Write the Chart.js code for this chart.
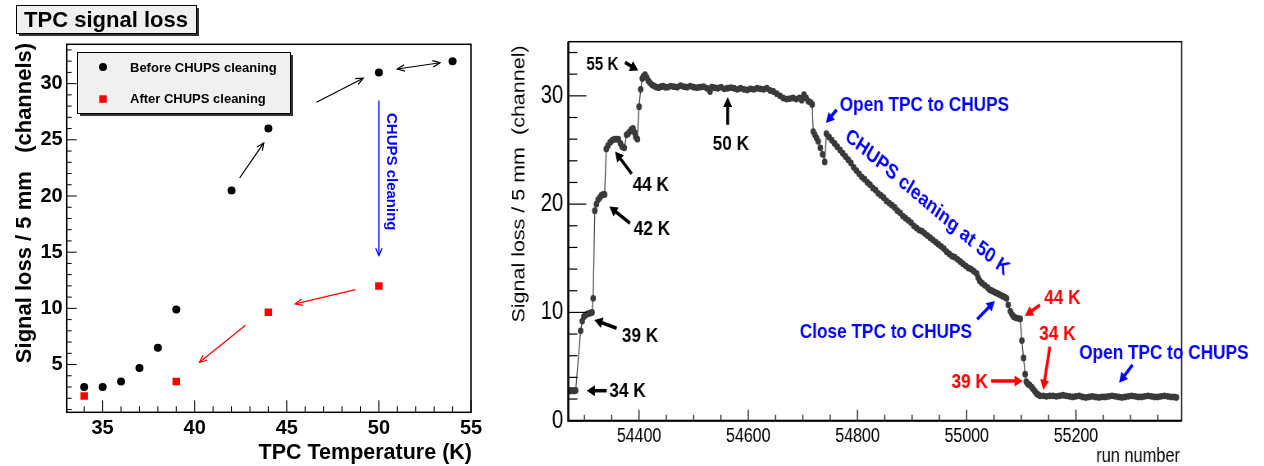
<!DOCTYPE html>
<html><head><meta charset="utf-8">
<script src="https://cdn.jsdelivr.net/npm/chart.js@4.4.1/dist/chart.umd.min.js"></script>
<style>
html,body{margin:0;padding:0;background:#fff;width:1264px;height:466px;overflow:hidden}
#left{position:absolute;left:0;top:0;width:490px;height:466px}
#right{position:absolute;left:490px;top:0;width:944px;height:466px;transform:scaleX(0.82);transform-origin:0 0}
</style></head><body>
<div id="left"><canvas id="c1" width="490" height="466"></canvas></div>
<div id="right"><canvas id="c2" width="944" height="466"></canvas></div>
<script>
// ---------- Left panel: signal loss vs TPC temperature ----------
const tempBefore = [34, 35, 36, 37, 38, 39, 42, 44, 50, 54];
const lossBefore = [3.0, 3.0, 3.5, 4.7, 6.5, 9.9, 20.5, 26.0, 31.0, 32.0];
const tempAfter  = [34, 39, 44, 50];
const lossAfter  = [2.2, 3.5, 9.65, 12.0];
const leftXTicks = [35, 40, 45, 50, 55];
const leftYTicks = [5, 10, 15, 20, 25, 30];

// ---------- Right panel: signal loss vs run number ----------
const runNumber = [
 54272,54275,54278,54281,54284,54293,54296,54299,54302,54305,54308,54311,54314,54316,
 54319,54322,54325,54328,54331,54334,54337,54340,54343,54347,54351,54355,54359,54362,
 54366,54369,54373,54377,54380,54383,54386,54389,54392,54394,54397,54400,54403,54406,
 54408,54411,54414,54417,54420,54424,54428,54432,54436,54440,54444,54448,
 54452,54458,54464,54470,54476,54482,54488,54494,54500,54506,54512,54518,54524,54530,
 54533,54538,54544,54550,54556,54562,54568,54574,54580,54586,54592,54598,54604,54610,
 54616,54622,54628,54634,54640,54646,54652,54658,54664,54670,54676,54682,54688,54694,
 54698,54702,54706,54710,54714,54717,54719,54722,54725,54728,54732,54736,54740,54743,
 54748,54753,54758,54763,54768,54773,54778,54783,54788,54793,54798,54803,54808,54813,
 54818,54823,54828,54833,54838,54843,54848,54853,54858,54863,54868,54873,54878,54883,
 54888,54893,54898,54903,54908,54913,54918,54923,54928,54933,54938,54943,54948,54953,
 54958,54963,54968,54973,54978,54983,54988,54993,54998,55003,55008,55013,55018,55021,
 55024,55028,55033,55038,55042,55046,55050,55054,55058,55062,55066,55070,55073,55076,
 55080,55083,55086,55090,55094,55098,55101,55104,55107,55109,55112,55115,55119,55122,
 55125,55128,55131,55134,55140,55146,55152,55158,55164,55170,55176,55182,55188,55194,
 55200,55206,55212,55218,55224,55230,55236,55242,55248,55254,55260,55266,55272,55278,
 55284,55290,55296,55302,55308,55314,55320,55326,55332,55338,55344,55350,55356,55362,
 55368,55374,55380,55384
];
const signalLoss = [
 2.8,2.75,2.8,2.75,2.8,8.3,9.2,9.6,9.75,9.85,9.9,9.95,10.0,11.3,
 19.4,20.0,20.4,20.6,20.8,20.9,20.9,25.1,25.4,25.7,25.9,26.0,26.0,26.0,
 25.6,25.3,25.2,26.4,26.5,26.7,26.9,27.0,26.6,26.2,26.0,29.0,30.6,31.6,
 31.8,31.95,31.7,31.4,31.2,31.0,30.9,30.8,30.75,30.85,30.9,30.8,
 30.8,30.9,30.85,30.8,30.95,30.85,30.8,30.9,30.8,30.75,30.8,30.85,30.7,30.4,
 30.8,30.75,30.7,30.8,30.65,30.7,30.75,30.7,30.6,30.7,30.6,30.55,30.65,30.6,
 30.7,30.65,30.6,30.7,30.5,30.4,30.2,30.0,29.8,29.7,29.75,29.8,29.7,29.8,
 29.6,30.1,29.8,29.5,29.4,29.2,26.7,26.4,26.1,25.8,25.2,24.6,23.9,26.5,
 26.2,25.9,25.6,25.3,25.0,24.7,24.4,24.1,23.8,23.4,23.1,22.8,22.5,22.3,
 22.0,21.8,21.5,21.3,21.0,20.8,20.6,20.3,20.1,19.9,19.7,19.4,19.2,18.9,
 18.7,18.5,18.3,18.0,17.8,17.6,17.5,17.3,17.1,16.9,16.7,16.5,16.3,16.1,
 15.9,15.6,15.4,15.2,15.1,14.9,14.7,14.5,14.3,14.1,14.0,13.8,13.6,13.2,
 12.9,12.7,12.5,12.3,12.1,12.0,11.9,11.8,11.7,11.6,11.5,11.4,11.3,10.7,
 10.1,9.8,9.6,9.5,9.45,9.4,7.4,5.8,4.3,3.6,3.4,3.3,3.1,2.9,
 2.7,2.5,2.4,2.3,2.3,2.25,2.3,2.3,2.25,2.3,2.35,2.3,2.25,2.2,
 2.25,2.3,2.2,2.15,2.2,2.25,2.2,2.15,2.2,2.2,2.25,2.3,2.25,2.2,
 2.15,2.2,2.25,2.3,2.25,2.2,2.2,2.25,2.3,2.25,2.2,2.2,2.25,2.3,
 2.25,2.2,2.2,2.15
];
const rightXTicks = [54400, 54600, 54800, 55000, 55200];
const rightYTicks = [0, 10, 20, 30];

// ---------- Annotations (in data coordinates) ----------
const leftArrows = [
 {from:[42.44,21.6], to:[43.75,24.73], color:'#000'},
 {from:[46.61,28.35], to:[49.15,30.48], color:'#000'},
 {from:[51.0,31.3], to:[53.32,31.86], color:'#000', double:true},
 {from:[50,28.5], to:[50,14.7], color:'#0000ff'},
 {from:[48.73,11.66], to:[45.46,10.4], color:'#ff0000'},
 {from:[42.76,8.5], to:[40.26,5.2], color:'#ff0000'}
];
const rightNotes = [
 {text:'55 K', at:[54333,33.03], color:'#000', size:18.6},
 {text:'50 K', at:[54568,25.71], color:'#000', size:21},
 {text:'44 K', at:[54421.5,21.88], color:'#000', size:21},
 {text:'42 K', at:[54423.7,17.86], color:'#000', size:21},
 {text:'39 K', at:[54401.7,8.01], color:'#000', size:21},
 {text:'34 K', at:[54378.9,2.93], color:'#000', size:21},
 {text:'Open TPC to CHUPS', at:[54922.5,29.32], color:'#0000ff', size:21},
 {text:'CHUPS cleaning at 50 K', at:[54929,20.26], color:'#0000ff', size:21, angle:35},
 {text:'Close TPC to CHUPS', at:[54852,8.38], color:'#0000ff', size:21},
 {text:'44 K', at:[55175.1,11.52], color:'#ff0000', size:21},
 {text:'34 K', at:[55166,8.15], color:'#ff0000', size:21},
 {text:'39 K', at:[55005.3,3.76], color:'#ff0000', size:21},
 {text:'Open TPC to CHUPS', at:[55361,6.38], color:'#0000ff', size:21}
];
const rightArrows = [
 {from:[54374.3,33.09], to:[54398.6,32.35], color:'#000'},
 {from:[54562.3,27.33], to:[54562.3,29.89], color:'#000'},
 {from:[54386.6,22.8], to:[54356,24.86], color:'#000'},
 {from:[54383.4,18.24], to:[54345.5,19.78], color:'#000'},
 {from:[54359,8.54], to:[54318.1,9.31], color:'#000'},
 {from:[54340.8,2.77], to:[54304.2,2.77], color:'#000'},
 {from:[54761.8,28.72], to:[54742.2,27.49], color:'#0000ff'},
 {from:[55019.2,9.37], to:[55051.6,11.06], color:'#0000ff'},
 {from:[55134,10.69], to:[55106.5,9.68], color:'#ff0000'},
 {from:[55152.2,6.84], to:[55140,2.84], color:'#ff0000'},
 {from:[55044.7,3.67], to:[55102.6,3.67], color:'#ff0000'},
 {from:[55303.6,5.15], to:[55279,3.51], color:'#0000ff'}
];

const SANS = "'Liberation Sans', Arial, Helvetica, sans-serif";

function seg(ctx,x1,y1,x2,y2){ctx.beginPath();ctx.moveTo(x1,y1);ctx.lineTo(x2,y2);ctx.stroke();}

function drawArrow(ctx,x1,y1,x2,y2,o){
  const ang=Math.atan2(y2-y1,x2-x1);
  ctx.save();
  ctx.strokeStyle=o.color; ctx.fillStyle=o.color; ctx.lineWidth=o.width; ctx.lineCap='butt';
  if(o.filled){
    const L=o.head, W=o.headW;
    const bx=x2-L*Math.cos(ang), by=y2-L*Math.sin(ang);
    seg(ctx,x1,y1,bx+Math.cos(ang),by+Math.sin(ang));
    ctx.beginPath(); ctx.moveTo(x2,y2);
    ctx.lineTo(bx+W/2*Math.sin(ang), by-W/2*Math.cos(ang));
    ctx.lineTo(bx-W/2*Math.sin(ang), by+W/2*Math.cos(ang));
    ctx.closePath(); ctx.fill();
  } else {
    seg(ctx,x1,y1,x2,y2);
    const heads=o.double?[[x2,y2,ang],[x1,y1,ang+Math.PI]]:[[x2,y2,ang]];
    for(const [hx,hy,a] of heads){
      ctx.beginPath();
      ctx.moveTo(hx-o.head*Math.cos(a-0.42),hy-o.head*Math.sin(a-0.42));
      ctx.lineTo(hx,hy);
      ctx.lineTo(hx-o.head*Math.cos(a+0.42),hy-o.head*Math.sin(a+0.42));
      ctx.stroke();
    }
  }
  ctx.restore();
}

function drawText(ctx,text,x,y,o){
  ctx.save();
  ctx.translate(x,y);
  ctx.rotate((o.angle||0)*Math.PI/180);
  ctx.font=(o.weight||'normal')+' '+o.size+'px '+SANS;
  ctx.fillStyle=o.color||'#000';
  ctx.textAlign=o.align||'center';
  ctx.textBaseline='alphabetic';
  ctx.fillText(text,0,0.36*o.size);
  ctx.restore();
}

function boxWithShadow(ctx,x,y,w,h){
  ctx.save();
  ctx.fillStyle='#333'; ctx.fillRect(x+3,y+3,w,h);
  ctx.fillStyle='#f0f0f0'; ctx.fillRect(x,y,w,h);
  ctx.strokeStyle='#000'; ctx.lineWidth=1; ctx.strokeRect(x+0.5,y+0.5,w,h);
  ctx.restore();
}

const leftDecor={
  id:'leftDecor',
  afterDraw(chart){
    const {ctx,chartArea:a,scales:{x,y}}=chart;
    ctx.save();
    ctx.strokeStyle='#000'; ctx.lineWidth=1.5;
    ctx.strokeRect(a.left,a.top,a.right-a.left,a.bottom-a.top);
    ctx.lineWidth=1;
    for(let v=Math.ceil(y.min);v<=y.max;v++){
      const py=y.getPixelForValue(v); const len=(v%5===0)?10:5;
      seg(ctx,a.left,py,a.left+len,py);
    }
    for(let v=Math.ceil(x.min);v<=x.max;v++){
      const px=x.getPixelForValue(v); const len=(v%5===0)?12:6;
      seg(ctx,px,a.bottom,px,a.bottom-len);
    }
    ctx.restore();
    for(const ar of leftArrows){
      drawArrow(ctx,x.getPixelForValue(ar.from[0]),y.getPixelForValue(ar.from[1]),
        x.getPixelForValue(ar.to[0]),y.getPixelForValue(ar.to[1]),
        {color:ar.color,width:1.2,head:8,double:ar.double});
    }
    drawText(ctx,'CHUPS cleaning',x.getPixelForValue(50.75),y.getPixelForValue(22.16),
      {size:15,weight:'bold',color:'#0000ff',angle:90});
    boxWithShadow(ctx,77,52,213,61);
    ctx.save();
    ctx.fillStyle='#000'; ctx.beginPath(); ctx.arc(103,67,4,0,Math.PI*2); ctx.fill();
    ctx.fillStyle='#ff0000'; ctx.fillRect(99.3,95.3,7.5,7.5);
    ctx.restore();
    drawText(ctx,'Before CHUPS cleaning',130,67,{size:13,weight:'bold',align:'left'});
    drawText(ctx,'After CHUPS cleaning',130,98.5,{size:13,weight:'bold',align:'left'});
    boxWithShadow(ctx,16,5,180,28);
    drawText(ctx,'TPC signal loss',106,19,{size:22,weight:'bold'});
    drawText(ctx,'Signal loss / 5 mm   (channels)',23,203,{size:22,weight:'bold',angle:-90});
    drawText(ctx,'TPC Temperature (K)',472,451.5,{size:21.5,weight:'bold',align:'right'});
  }
};

const rightDecor={
  id:'rightDecor',
  afterDraw(chart){
    const {ctx,chartArea:a,scales:{x,y}}=chart;
    ctx.save();
    ctx.strokeStyle='#000'; ctx.lineWidth=1.5;
    ctx.strokeRect(a.left,a.top,a.right-a.left,a.bottom-a.top);
    ctx.lineWidth=2.4; seg(ctx,a.left,a.top,a.left,a.bottom+1);
    ctx.lineWidth=2; seg(ctx,a.left,a.bottom,a.right,a.bottom);
    ctx.lineWidth=1.2;
    for(let v=0;v<=y.max;v+=2){
      const py=y.getPixelForValue(v); const len=(v%10===0)?22:11;
      seg(ctx,a.left,py,a.left+len,py);
    }
    for(let v=Math.ceil(x.min/50)*50;v<=x.max;v+=50){
      const px=x.getPixelForValue(v); const len=(v%200===0)?11:6;
      seg(ctx,px,a.bottom,px,a.bottom-len);
    }
    ctx.restore();
    for(const ar of rightArrows){
      drawArrow(ctx,x.getPixelForValue(ar.from[0]),y.getPixelForValue(ar.from[1]),
        x.getPixelForValue(ar.to[0]),y.getPixelForValue(ar.to[1]),
        {color:ar.color,width:3.5,head:10,headW:11,filled:true});
    }
    for(const n of rightNotes){
      drawText(ctx,n.text,x.getPixelForValue(n.at[0]),y.getPixelForValue(n.at[1]),
        {size:n.size,weight:'bold',color:n.color,angle:n.angle||0});
    }
    drawText(ctx,'Signal loss / 5 mm  (channel)',34,184,{size:21.5,angle:-90});
    drawText(ctx,'run number',841.5,455,{size:20,align:'right'});
  }
};

new Chart(document.getElementById('c1'),{
  type:'scatter',
  data:{datasets:[
    {label:'Before CHUPS cleaning',data:tempBefore.map((t,i)=>({x:t,y:lossBefore[i]})),
     pointStyle:'circle',pointRadius:4,backgroundColor:'#000',borderColor:'#000',borderWidth:0},
    {label:'After CHUPS cleaning',data:tempAfter.map((t,i)=>({x:t,y:lossAfter[i]})),
     pointStyle:'rect',pointRadius:5.3,backgroundColor:'#ff0000',borderColor:'#ff0000',borderWidth:0}
  ]},
  options:{
    responsive:false,animation:false,
    layout:{padding:{left:0,right:19,top:44.3,bottom:0}},
    plugins:{legend:{display:false},tooltip:{enabled:false}},
    scales:{
      x:{type:'linear',min:33.05,max:55,
        afterBuildTicks:s=>{s.ticks=leftXTicks.map(v=>({value:v}));},
        afterFit:s=>{s.height=53.7;},
        grid:{display:false,drawTicks:false},border:{display:false},
        ticks:{font:{family:SANS,weight:'bold',size:20},color:'#000',padding:4,maxRotation:0,autoSkip:false,callback:v=>String(v)}},
      y:{type:'linear',min:0.75,max:33.5,
        afterBuildTicks:s=>{s.ticks=leftYTicks.map(v=>({value:v}));},
        afterFit:s=>{s.width=66.7;},
        grid:{display:false,drawTicks:false},border:{display:false},
        ticks:{font:{family:SANS,weight:'bold',size:20},color:'#000',padding:4,autoSkip:false,callback:v=>String(v)}}
    }
  },
  plugins:[leftDecor]
});

new Chart(document.getElementById('c2'),{
  type:'scatter',
  data:{datasets:[{label:'Signal loss',data:runNumber.map((r,i)=>({x:r,y:signalLoss[i]})),
    showLine:true,borderColor:'#3a3a3a',borderWidth:1.2,tension:0,
    pointRadius:3.4,pointBackgroundColor:'#3a3a3a',pointBorderWidth:0,pointBorderColor:'#3a3a3a'}]},
  options:{
    responsive:false,animation:false,
    layout:{padding:{left:0,right:100.5,top:41.7,bottom:0}},
    plugins:{legend:{display:false},tooltip:{enabled:false}},
    scales:{
      x:{type:'linear',min:54270.5,max:55393.6,
        afterBuildTicks:s=>{s.ticks=rightXTicks.map(v=>({value:v}));},
        afterFit:s=>{s.height=45.3;},
        grid:{display:false,drawTicks:false},border:{display:false},
        ticks:{font:{family:SANS,size:19.5},color:'#000',padding:4,maxRotation:0,autoSkip:false,callback:v=>String(v)}},
      y:{type:'linear',min:0,max:35,
        afterBuildTicks:s=>{s.ticks=rightYTicks.map(v=>({value:v}));},
        afterFit:s=>{s.width=95.5;},
        grid:{display:false,drawTicks:false},border:{display:false},
        ticks:{font:{family:SANS,size:25},color:'#000',padding:6,autoSkip:false,callback:v=>String(v)}}
    }
  },
  plugins:[rightDecor]
});
</script>
</body></html>
